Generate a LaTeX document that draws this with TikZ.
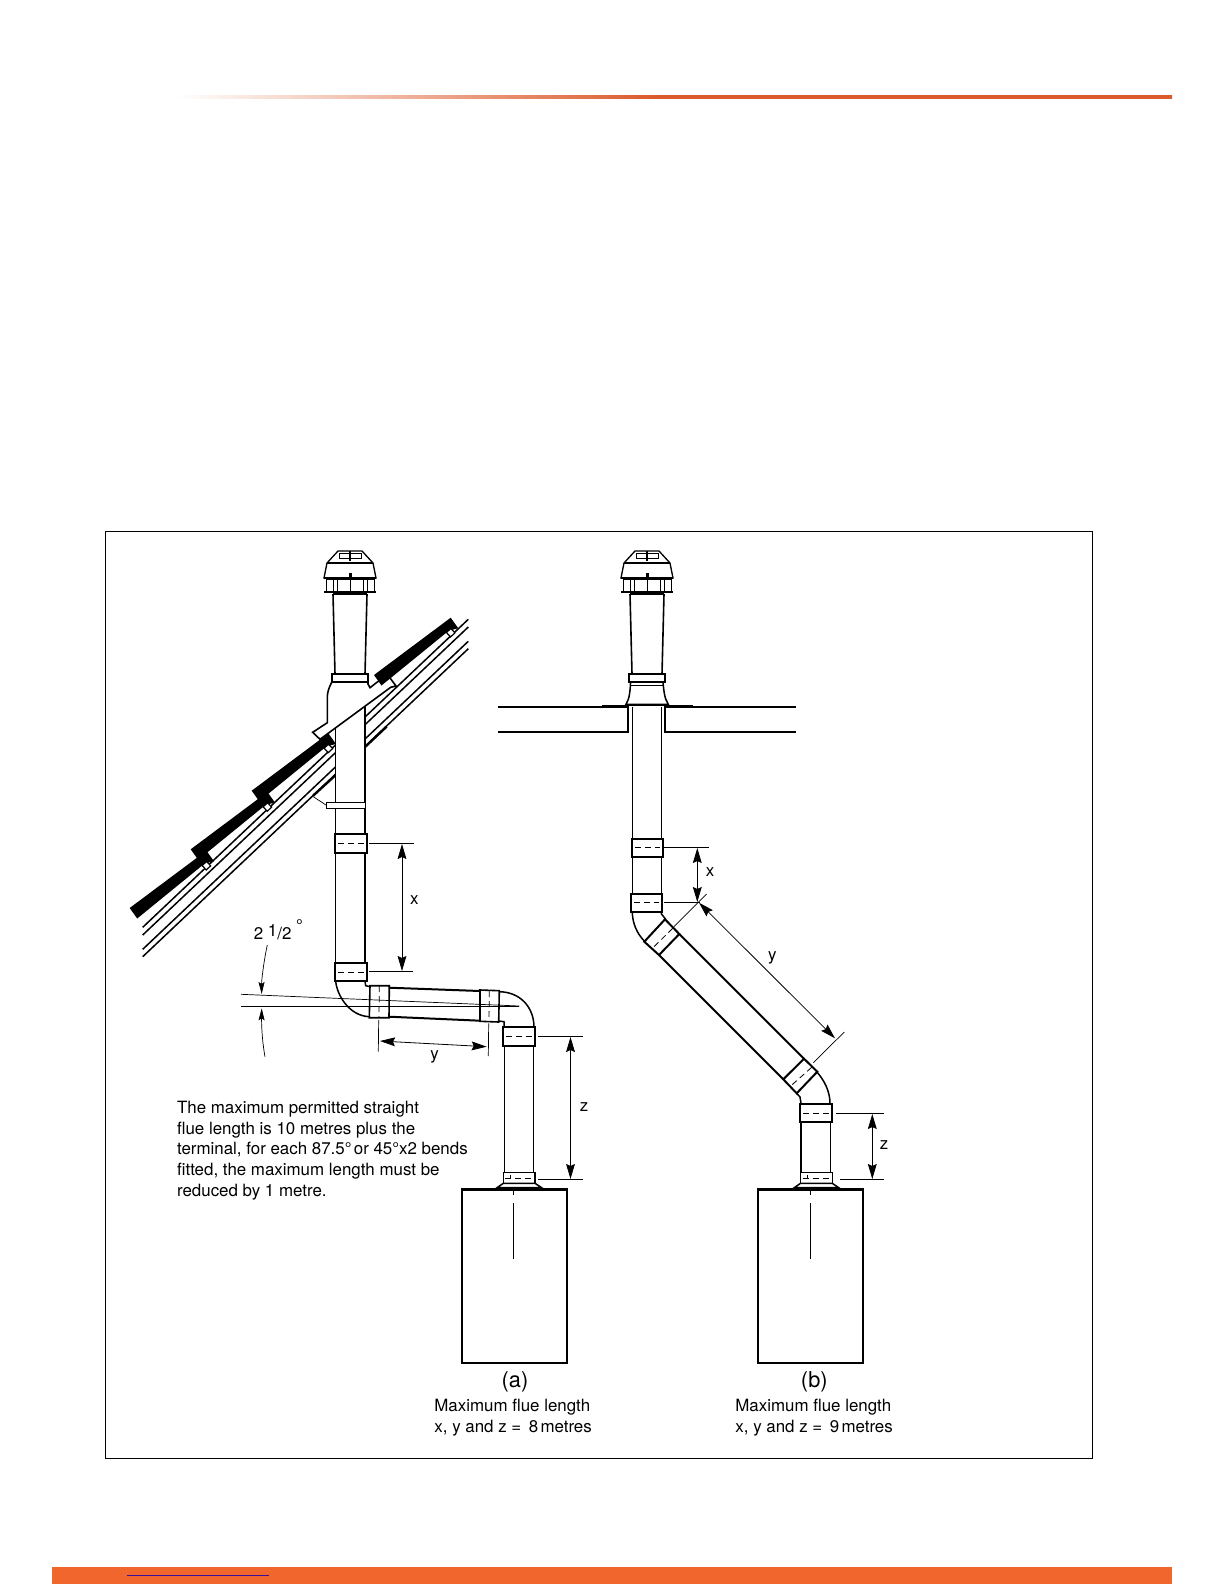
\documentclass[tikz,border=0pt]{standalone}
\usepackage{fontspec}
\setmainfont{TeX Gyre Heros}
\usetikzlibrary{arrows.meta}
\definecolor{barorange}{HTML}{F0662C}
\definecolor{ruleorange}{HTML}{DC5B2C}
\definecolor{linkblue}{HTML}{3A109A}
\pgfdeclarehorizontalshading{rulefade}{100bp}{color(0bp)=(white); color(25bp)=(white); color(49bp)=(ruleorange); color(100bp)=(ruleorange)}
\tikzset{
  pipeline/.style={line width=0.75pt},
  collar/.style={draw,line width=1.1pt,fill=white},
  dashline/.style={line width=0.4pt,dash pattern=on 3pt off 2pt},
  thinline/.style={line width=0.35pt},
  boilerbox/.style={draw,line width=1.1pt},
  dimarrow/.style={{Stealth[length=7.5pt,width=4.4pt,inset=1pt]}-{Stealth[length=7.5pt,width=4.4pt,inset=1pt]},line width=0.4pt},
  bigtext/.style={font=\fontsize{10.9}{13}\selectfont,inner sep=0pt},
  smalltext/.style={font=\fontsize{8.45}{10.3}\selectfont,inner sep=0pt,align=left}
}
\newcommand{\flueterm}[2]{
  \begin{scope}[shift={(#1,#2)}]
    \draw[line width=0.65pt,fill=white] (-12,0) -- (12,0) -- (23,12) -- (26,27) -- (-26,27) -- (-23,12) -- cycle;
    \draw[line width=0.3pt] (-11,2) rectangle (11,7);
    \draw[line width=0.55pt] (0,0) -- (0,10);
    \draw[line width=0.55pt] (-23,12) -- (23,12);
    \draw[line width=0.5pt] (-24,28) rectangle (24,41);
    \draw[line width=0.9pt] (-26,27) -- (26,27);
    \draw[line width=1.1pt] (-26,41) -- (26,41);
    \draw[line width=0.25pt] (-17,28) -- (-17,41);
    \draw[line width=0.25pt] (-13,28) -- (-13,41);
    \draw[line width=0.25pt] (0,28) -- (0,41);
    \draw[line width=0.25pt] (13,28) -- (13,41);
    \draw[line width=0.25pt] (17,28) -- (17,41);
    \fill (-1.5,22) rectangle (1.5,27);
    \draw[line width=0.8pt] (-17,43) -- (-15,123);
    \draw[line width=0.8pt] (17,43) -- (15,123);
    \draw[pipeline] (-17,43) -- (17,43);
    \draw[collar,line width=0.9pt] (-18,123) rectangle (18,131);
  \end{scope}
}
\newcommand{\hsleeve}[4]{
  \draw[collar] (#1,#2) rectangle (#3,#4);
  \draw[dashline] ({#1+3},{(#2+#4)/2}) -- ({#3-3},{(#2+#4)/2});
}
\newcommand{\rooftile}[2]{
  \begin{scope}[shift={(#1,#2)}]
    \fill[black] (0,0) -- (76.7,-57.3) -- (84.3,-46.7) -- (75,-44.5) -- (7.5,10.5) -- cycle;
    \draw[line width=0.6pt,fill=white,shift={(76.7,-42.3)},rotate=43] (-3,-3) rectangle (3,3);
  \end{scope}
}
\newcommand{\baseflange}[1]{
  \begin{scope}[shift={(#1,0)}]
    \draw[line width=0.7pt,fill=white] (-10,1172.5) rectangle (21.7,1183.3);
    \draw[dashline] (-8,1178.5) -- (20,1178.5);
    \draw[thinline] (-3,1175) -- (-3,1178.5);
    \draw[pipeline,fill=white] (-10,1183.3) -- (-16,1187.5) -- (28,1187.5) -- (21.7,1183.3) -- cycle;
  \end{scope}
}
\begin{document}
\begin{tikzpicture}[x=0.5pt,y=-0.5pt]
  \useasboundingbox (0,0) rectangle (1224,1584);
  \shade[shading=rulefade] (177,96) rectangle (1172,99);
  \fill[barorange] (52,1567) rectangle (1172,1584);
  \draw[linkblue,line width=0.5pt] (127,1575) -- (268.5,1575);
  \draw[line width=0.45pt] (105,531) rectangle (1092,1458.3);

  \coordinate (rafa) at (142.7,927.3);
  \coordinate (rafb) at (468.3,619.3);
  \draw[pipeline] (rafa) -- (rafb);
  \draw[pipeline] (142.7,935) -- (468.3,627);
  \draw[pipeline] (142.7,949.3) -- (468.3,641.3);
  \draw[pipeline] (142.7,956.7) -- (468.3,648.7);
  \draw[line width=1.2pt] (313.3,795.5) -- (335.7,775);
  \draw[line width=1.2pt] (365,747) -- (386.7,726.5);
  \draw[thinline] (312.3,796) -- (326.7,805.5);

  \draw[pipeline,fill=white] (335.7,700) rectangle (365,835);
  \draw[collar,line width=0.7pt] (326.7,802.7) rectangle (365.7,808.3);
  \draw[line width=0.8pt,fill=white] (312.7,732.3) -- (327.3,722.7) -- (327.3,698.3) .. controls (327.3,690) and (330,686) .. (332,681.7) -- (368,681.7) -- (368,684) -- (370,687.7) -- (377.3,682) -- (388.3,675.7) -- (396,686) -- (390.7,687.3) -- (320,739.3) -- cycle;
  \rooftile{129.7}{908}
  \rooftile{190.7}{849.3}
  \rooftile{251.7}{790.7}
  \rooftile{374}{675}
  \flueterm{350}{551}

  \hsleeve{335}{834.3}{366.7}{853.3}
  \draw[pipeline] (335.7,853.3) -- (335.7,962.7);
  \draw[pipeline] (365,853.3) -- (365,962.7);
  \hsleeve{335}{962.7}{366.7}{981.3}
  \draw[pipeline] (335.7,981.3) .. controls (337,995) and (349,1016) .. (369.5,1016.7);
  \draw[pipeline] (365,981.3) -- (365.7,985.7) -- (370,986.7);
  \draw[pipeline,line width=1pt] (389.3,987.7) -- (480,991);
  \draw[pipeline,line width=1pt] (389,1016.7) -- (480,1020.7);
  \draw[collar,line width=0.8pt] (370,985.7) -- (389.3,985.7) -- (389,1017.7) -- (369.3,1017.7) -- cycle;
  \draw[dashline] (379.3,986) -- (379,1017);
  \draw[collar,line width=0.8pt] (480,990) -- (499.3,990.7) -- (498.7,1022) -- (480,1021.3) -- cycle;
  \draw[dashline] (489.3,991) -- (489,1021);
  \draw[pipeline] (499.3,991.7) .. controls (520,992) and (534,1007) .. (534,1027.3);
  \draw[pipeline] (498.7,1021) -- (504,1021.7) -- (504.3,1027.3);
  \hsleeve{502.7}{1027.3}{534.7}{1046}
  \draw[pipeline] (504.3,1046) -- (504.3,1173);
  \draw[pipeline] (533.3,1046) -- (533.3,1173);
  \baseflange{513.3}

  \coordinate (anglea) at (241,994.3);
  \coordinate (angleb) at (519.3,1006);
  \coordinate (anglec) at (241,1006.3);
  \coordinate (angled) at (519.3,1006.3);
  \draw[thinline] (anglea) -- (angleb);
  \draw[thinline] (anglec) -- (angled);
  \coordinate (archa) at (267.3,945);
  \coordinate (archb) at (261.7,994);
  \coordinate (archc) at (265,1056.7);
  \coordinate (archd) at (261.7,1008.3);
  \draw[thinline,-{Stealth[length=6pt,width=3pt,inset=1pt]}] (archa) .. controls (264,960) and (261.5,980) .. (archb);
  \draw[thinline,-{Stealth[length=6pt,width=3pt,inset=1pt]}] (archc) .. controls (262,1040) and (261.5,1025) .. (archd);
  \node[smalltext,anchor=base west] (anglelab) at (253.5,939.3) {2 \raisebox{1.5pt}{1}/2 \raisebox{4pt}{°}};

  \draw[thinline] (369,843.3) -- (414,843.3);
  \draw[thinline] (369,971.3) -- (413.3,971.3);
  \coordinate (xtopa) at (402,844);
  \coordinate (xbota) at (402,971);
  \draw[dimarrow] (xtopa) -- (xbota);
  \node[smalltext] (xlaba) at (414.3,900) {x};
  \coordinate (yleftb) at (378.7,1020);
  \coordinate (yleftc) at (378.3,1051.7);
  \coordinate (yrightb) at (488.7,1023.3);
  \coordinate (yrightc) at (488.3,1056);
  \draw[thinline] (yleftb) -- (yleftc);
  \draw[thinline] (yrightb) -- (yrightc);
  \coordinate (ya) at (380,1041);
  \coordinate (yb) at (486.7,1046.7);
  \draw[dimarrow] (ya) -- (yb);
  \node[smalltext] (ylaba) at (434.5,1057) {y};
  \draw[thinline] (538.3,1036) -- (582.7,1036);
  \draw[thinline] (538.3,1179.3) -- (582.7,1179.3);
  \coordinate (ztopa) at (570.5,1037);
  \coordinate (zbota) at (570.5,1179);
  \draw[dimarrow] (ztopa) -- (zbota);
  \node[smalltext] (zlaba) at (584,1107) {z};

  \node[smalltext,anchor=north west] (notetext) at (176.7,1101) {The maximum permitted straight\\flue length is 10 metres plus the\\terminal, for each 87.5°\kern-1.2pt\ or 45°x2 bends\\fitted, the maximum length must be\\reduced by 1 metre.};

  \draw[boilerbox] (461.7,1189.3) rectangle (567.3,1363.3);
  \draw[line width=1.6pt] (461,1189.3) -- (568,1189.3);
  \draw[thinline] (513.3,1190) -- (513.3,1195);
  \draw[thinline] (513.3,1203) -- (513.3,1259);
  \node[bigtext] (capa) at (515,1382) {(a)};
  \node[smalltext,anchor=north west] (lengtha) at (434,1399) {Maximum flue length\\x, y and z = \,8\kern-1.2pt\ metres};

  \draw[line width=1pt] (498,732.3) -- (628.3,732.3) -- (628.3,706.7) -- (498,706.7);
  \draw[line width=1pt] (796,732.3) -- (665,732.3) -- (665,706.7) -- (796,706.7);
  \draw[thinline] (632.7,706.7) -- (632.7,839);
  \draw[thinline] (661.7,706.7) -- (661.7,839);
  \draw[pipeline,fill=white] (630.7,680.7) .. controls (630,690) and (630,698) .. (626,704.3) -- (668.3,704.3) .. controls (664,698) and (664,690) .. (662.7,680.7) -- cycle;
  \draw[thinline] (631,685) -- (663,685);
  \draw[line width=0.7pt] (601.7,705.6) -- (693.3,705.6);
  \flueterm{647}{551}

  \hsleeve{631.7}{839}{663.3}{856.7}
  \draw[pipeline] (632.3,856.7) -- (632.3,894);
  \draw[pipeline] (661.7,856.7) -- (661.7,894);
  \hsleeve{630.7}{894}{662.3}{911.7}
  \draw[pipeline] (632.3,911.7) .. controls (632.3,923) and (637,934) .. (645,941.7);
  \draw[pipeline] (661,911.7) -- (661.5,914) -- (665.7,919.3);
  \draw[pipeline,line width=1pt] (679.3,934) -- (804,1058.7);
  \draw[pipeline,line width=1pt] (659,955) -- (783.3,1079.3);
  \draw[collar,line width=1pt] (665,919.3) -- (679.3,934) -- (659,955) -- (644.3,941.7) -- cycle;
  \draw[dashline] (672.7,928.3) -- (651.7,949);
  \draw[collar,line width=1pt] (804,1058.7) -- (817.3,1071.7) -- (796.7,1093.3) -- (783.3,1079.3) -- cycle;
  \draw[dashline] (811.7,1067.3) -- (791,1085.7);
  \draw[pipeline] (816.7,1071.7) .. controls (824,1080) and (830,1091) .. (830,1103.3);
  \draw[pipeline] (796.7,1093.3) -- (800,1097) -- (801,1103.3);
  \hsleeve{800}{1104}{832}{1122}
  \draw[pipeline] (801,1122) -- (801,1173);
  \draw[pipeline] (830.3,1122) -- (830.3,1173);
  \baseflange{810.5}

  \draw[thinline] (664,847.3) -- (709.3,847.3);
  \draw[thinline] (664,902.3) -- (700,902.3);
  \coordinate (xtopb) at (697.3,848);
  \coordinate (xbotb) at (697.3,902);
  \draw[dimarrow] (xtopb) -- (xbotb);
  \node[smalltext] (xlabb) at (710,871.7) {x};
  \draw[thinline] (674,926.7) -- (706.7,894);
  \draw[thinline] (813.3,1062.7) -- (844.3,1032);
  \coordinate (yab) at (699,902.7);
  \coordinate (ybb) at (835,1038.3);
  \draw[dimarrow] (yab) -- (ybb);
  \node[smalltext] (ylabb) at (772.3,958) {y};
  \draw[thinline] (836,1113.3) -- (884,1113.3);
  \draw[thinline] (840,1179.3) -- (884,1179.3);
  \coordinate (ztopb) at (872.3,1114);
  \coordinate (zbotb) at (872.3,1179);
  \draw[dimarrow] (ztopb) -- (zbotb);
  \node[smalltext] (zlabb) at (884,1145) {z};

  \draw[boilerbox] (757.7,1189.3) rectangle (863.3,1363.3);
  \draw[line width=1.6pt] (757,1189.3) -- (864,1189.3);
  \draw[thinline] (810.5,1190) -- (810.5,1195);
  \draw[thinline] (810.5,1203) -- (810.5,1259);
  \node[bigtext] (capb) at (814.3,1382) {(b)};
  \node[smalltext,anchor=north west] (lengthb) at (735,1399) {Maximum flue length\\x, y and z = \,9\kern-1.2pt\ metres};
\end{tikzpicture}
\end{document}
